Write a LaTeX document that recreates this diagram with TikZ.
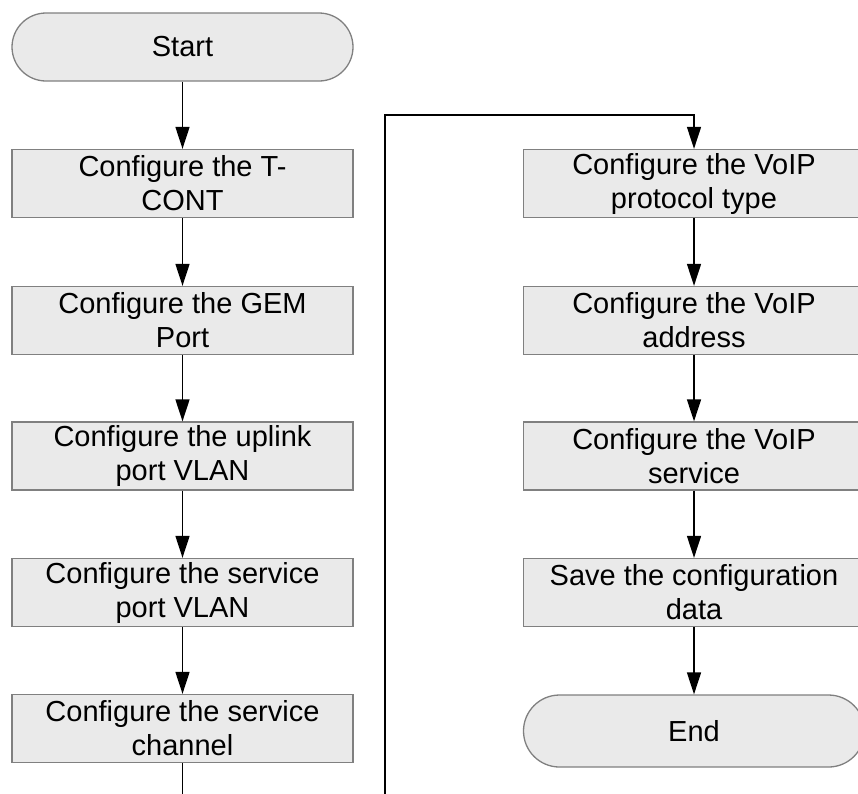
\documentclass[tikz,border=0pt]{standalone}
\usepackage{fontspec}
\setmainfont{Liberation Sans}
\usetikzlibrary{arrows.meta}
\definecolor{boxfill}{HTML}{EAEAEA}
\definecolor{boxline}{HTML}{808080}
\tikzset{
  stepbox/.style={draw=boxline, fill=boxfill, line width=1.3pt, minimum width=341pt, minimum height=68pt, inner sep=0pt, align=center, font=\fontsize{29pt}{34pt}\selectfont},
  termbox/.style={stepbox, rounded corners=34pt},
  flow/.style={line width=1.4pt, -{Triangle[length=22pt,width=14pt]}},
  plainline/.style={line width=1.4pt}
}
\begin{document}
\begin{tikzpicture}[x=1pt,y=-1pt]
\useasboundingbox (0,0) rectangle (858,793);
\clip (0,0) rectangle (858,793);
% left column
\node[termbox] (start) at (182.5,47) {Start};
\node[stepbox] (tcont) at (182.5,183.5) {Configure the T-\\CONT};
\node[stepbox] (gem) at (182.5,320.5) {Configure the GEM\\Port};
\node[stepbox] (uplink) at (182.5,456) {Configure the uplink\\port VLAN};
\node[stepbox] (svcvlan) at (182.5,592.5) {Configure the service\\port VLAN};
\node[stepbox] (chan) at (182.5,728.5) {Configure the service\\channel};
% right column
\node[stepbox] (proto) at (694,183.5) {Configure the VoIP\\protocol type};
\node[stepbox] (addr) at (694,320.5) {Configure the VoIP\\address};
\node[stepbox] (svc) at (694,456) {Configure the VoIP\\service};
\node[stepbox] (save) at (694,592.5) {Save the configuration\\data};
\node[termbox, minimum height=72pt, rounded corners=36pt] (end) at (694,731) {End};
% connectors
\draw[flow] (start) -- (tcont);
\draw[flow] (tcont) -- (gem);
\draw[flow] (gem) -- (uplink);
\draw[flow] (uplink) -- (svcvlan);
\draw[flow] (svcvlan) -- (chan);
\coordinate (turn) at (385,115);
\draw[flow] (chan.south) |- (385,820) -- (turn) -| (proto.north);
\draw[flow] (proto) -- (addr);
\draw[flow] (addr) -- (svc);
\draw[flow] (svc) -- (save);
\draw[flow] (save) -- (end);
\end{tikzpicture}
\end{document}
